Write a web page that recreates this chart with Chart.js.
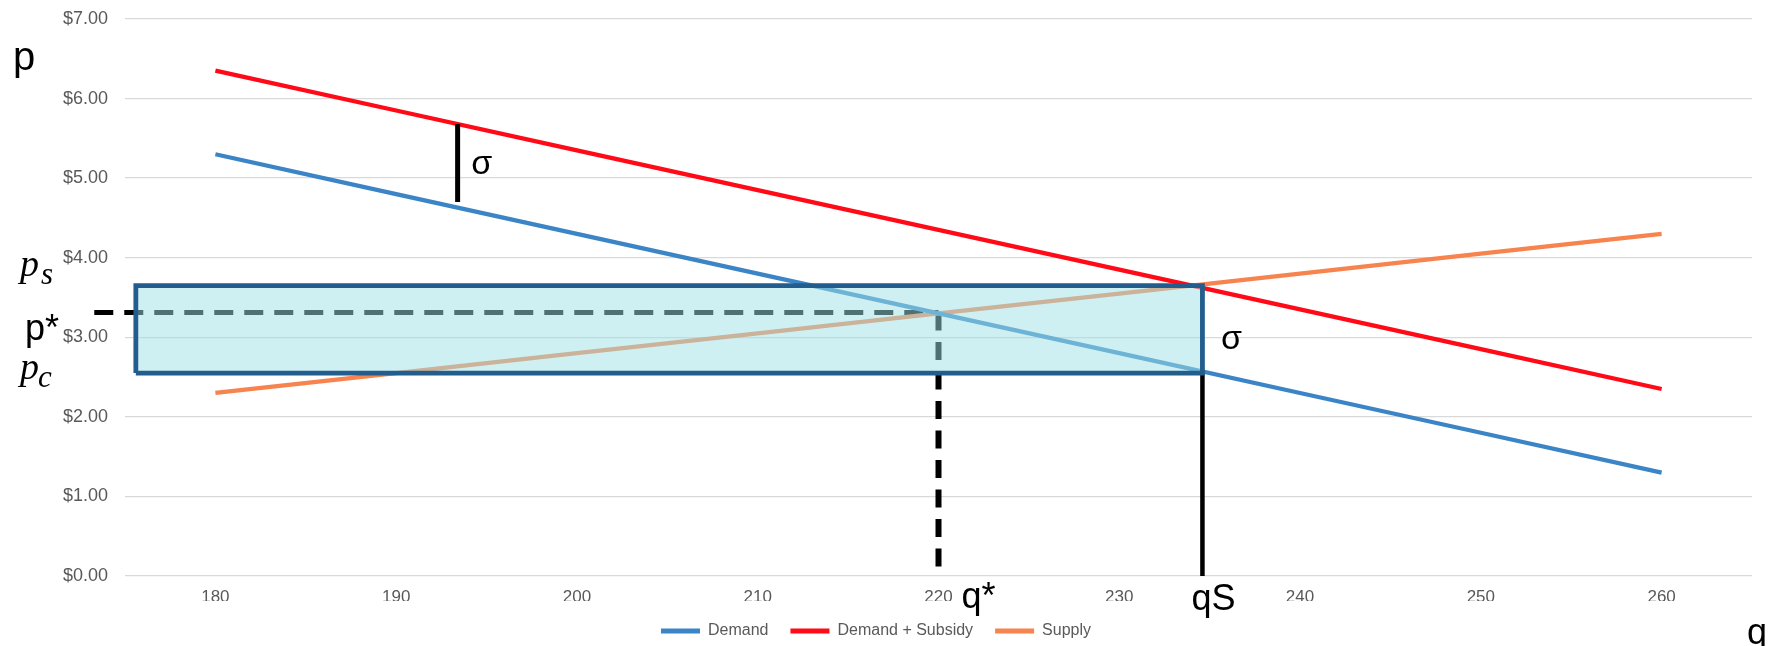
<!DOCTYPE html>
<html>
<head>
<meta charset="utf-8">
<script src="https://cdn.jsdelivr.net/npm/chart.js@4.4.1/dist/chart.umd.min.js"></script>
<style>
    html, body { margin: 0; padding: 0; background: #fff; }
    #wrap { width: 1777px; height: 646px; position: relative; }
</style>
</head>
<body>
<div id="wrap"><canvas id="chart"></canvas></div>
<script>
// series data
const quantities = [180, 190, 200, 210, 220, 230, 240, 250, 260];
const demand = [5.30, 4.80, 4.30, 3.80, 3.30, 2.80, 2.30, 1.80, 1.30];
const demandSubsidy = [6.35, 5.85, 5.35, 4.85, 4.35, 3.85, 3.35, 2.85, 2.35];
const supply = [2.30, 2.55, 2.80, 3.05, 3.30, 3.55, 3.80, 4.05, 4.30];
const seriesNames = ['Demand', 'Demand + Subsidy', 'Supply'];
const seriesColors = ['#3b85c7', '#ff0a16', '#f7834f'];

// axes
const xTicks = [180, 190, 200, 210, 220, 230, 240, 250, 260];
const yTicks = [0, 1, 2, 3, 4, 5, 6, 7];
const yTickLabels = ['$0.00', '$1.00', '$2.00', '$3.00', '$4.00', '$5.00', '$6.00', '$7.00'];

// annotation values (equilibrium, subsidy wedge)
const qStar = 220;
const pStar = 3.31;
const qSub = 234.6;
const pSupplier = 3.65;
const pConsumer = 2.55;
const wedgeLeftQ = 175.6;
const dashStartQ = 173.3;
const sigmaQ = 193.4;
const sigmaTop = 5.68;
const sigmaBottom = 4.70;

const toPoints = (xs, ys) => xs.map((x, i) => ({ x: x, y: ys[i] }));

const seriesData = [demand, demandSubsidy, supply];

const datasets = seriesData.map((vals, i) => ({
    label: seriesNames[i],
    data: toPoints(quantities, vals),
    borderColor: seriesColors[i],
    backgroundColor: seriesColors[i],
    borderWidth: 4.3,
    pointRadius: 0,
    tension: 0,
    order: 2
}));

// guide lines
datasets.push({
    label: 'pStar',
    data: [{ x: dashStartQ, y: pStar }, { x: qStar, y: pStar }],
    borderColor: '#000',
    borderWidth: 5,
    borderDash: [19, 11],
    pointRadius: 0,
    clip: false,
    order: 2
});
datasets.push({
    label: 'qStar',
    data: [{ x: qStar, y: pStar }, { x: qStar, y: 0 }],
    borderColor: '#000',
    borderWidth: 6,
    borderDash: [18, 11.5],
    pointRadius: 0,
    order: 2
});
datasets.push({
    label: 'qSub',
    data: [{ x: qSub, y: pConsumer }, { x: qSub, y: 0 }],
    borderColor: '#000',
    borderWidth: 4.5,
    pointRadius: 0,
    order: 1
});
datasets.push({
    label: 'sigma',
    data: [{ x: sigmaQ, y: sigmaTop }, { x: sigmaQ, y: sigmaBottom }],
    borderColor: '#000',
    borderWidth: 5,
    pointRadius: 0,
    order: 1
});
// subsidy rectangle, drawn last so its fill tints what lies under it
datasets.push({
    label: 'wedge',
    data: [
        { x: wedgeLeftQ, y: pConsumer },
        { x: wedgeLeftQ, y: pSupplier },
        { x: qSub, y: pSupplier },
        { x: qSub, y: pConsumer },
        { x: wedgeLeftQ, y: pConsumer }
    ],
    borderColor: '#235d8d',
    backgroundColor: 'rgba(160, 225, 230, 0.5)',
    borderWidth: 4.8,
    borderJoinStyle: 'miter',
    fill: 'shape',
    pointRadius: 0,
    order: 0
});

// text labels drawn on top
const annotationLabels = {
    id: 'annotationLabels',
    afterDraw(chart) {
        const { ctx, chartArea: area, scales: { x, y } } = chart;
        const sans = "'Liberation Sans', Arial, sans-serif";
        const serif = "italic 38px 'Liberation Serif', 'Times New Roman', serif";
        const serifSub = "italic 31px 'Liberation Serif', 'Times New Roman', serif";
        ctx.save();
        ctx.fillStyle = '#000';
        ctx.textBaseline = 'alphabetic';
        ctx.textAlign = 'left';

        ctx.font = '40px ' + sans;
        ctx.fillText('p', area.left - 112, area.top + 51);

        ctx.font = '36px ' + sans;
        ctx.fillText('p*', area.left - 100, y.getPixelForValue(pStar) + 27);
        ctx.fillText('q*', x.getPixelForValue(qStar) + 23, area.bottom + 32);
        ctx.fillText('q', area.right - 5, area.bottom + 68);
        ctx.textAlign = 'center';
        ctx.fillText('qS', x.getPixelForValue(qSub) + 11, area.bottom + 34);

        ctx.font = '34px ' + sans;
        ctx.fillText('σ', x.getPixelForValue(sigmaQ) + 24, y.getPixelForValue((sigmaTop + sigmaBottom) / 2) + 11);
        ctx.fillText('σ', x.getPixelForValue(qSub) + 29, y.getPixelForValue((pSupplier + pConsumer) / 2) + 20);

        ctx.textAlign = 'left';
        ctx.font = serif;
        ctx.fillText('p', area.left - 105, y.getPixelForValue(pSupplier) - 10);
        ctx.fillText('p', area.left - 105, y.getPixelForValue(pConsumer) + 6);
        ctx.font = serifSub;
        ctx.fillText('s', area.left - 84, y.getPixelForValue(pSupplier) - 2);
        ctx.fillText('c', area.left - 87, y.getPixelForValue(pConsumer) + 14);
        ctx.restore();
    }
};

Chart.defaults.font.family = "'Liberation Sans', Arial, sans-serif";
Chart.defaults.color = '#595959';

new Chart(document.getElementById('chart'), {
    type: 'line',
    data: { datasets: datasets },
    options: {
        responsive: true,
        maintainAspectRatio: false,
        devicePixelRatio: 1,
        animation: false,
        layout: { padding: { left: 0, right: 25, top: 19, bottom: -3 } },
        plugins: {
            filler: { drawTime: 'beforeDatasetDraw' },
            tooltip: { enabled: false },
            legend: {
                position: 'bottom',
                labels: {
                    boxWidth: 39,
                    boxHeight: 5,
                    padding: 22,
                    color: '#595959',
                    font: { size: 16 },
                    generateLabels: (chart) => seriesNames.map((name, i) => ({
                        text: name,
                        fillStyle: seriesColors[i],
                        strokeStyle: seriesColors[i],
                        lineWidth: 0,
                        fontColor: '#595959',
                        hidden: false,
                        datasetIndex: i
                    }))
                }
            }
        },
        scales: {
            x: {
                type: 'linear',
                min: 175,
                max: 265,
                afterBuildTicks: (scale) => { scale.ticks = xTicks.map(v => ({ value: v })); },
                afterFit: (scale) => { scale.height = 25; },
                grid: { display: false, drawTicks: false },
                border: { display: false },
                ticks: { padding: 11, font: { size: 17 }, color: '#595959', maxRotation: 0 }
            },
            y: {
                type: 'linear',
                min: 0,
                max: 7,
                afterBuildTicks: (scale) => { scale.ticks = yTicks.map(v => ({ value: v })); },
                afterFit: (scale) => { scale.width = 125; },
                grid: { color: '#d9d9d9', lineWidth: 1.3, drawTicks: true, tickLength: 17, tickColor: 'rgba(0,0,0,0)' },
                border: { display: false },
                ticks: {
                    padding: 0,
                    font: { size: 18 },
                    color: '#595959',
                    callback: (value) => yTickLabels[yTicks.indexOf(value)]
                }
            }
        }
    },
    plugins: [annotationLabels]
});
</script>
</body>
</html>
